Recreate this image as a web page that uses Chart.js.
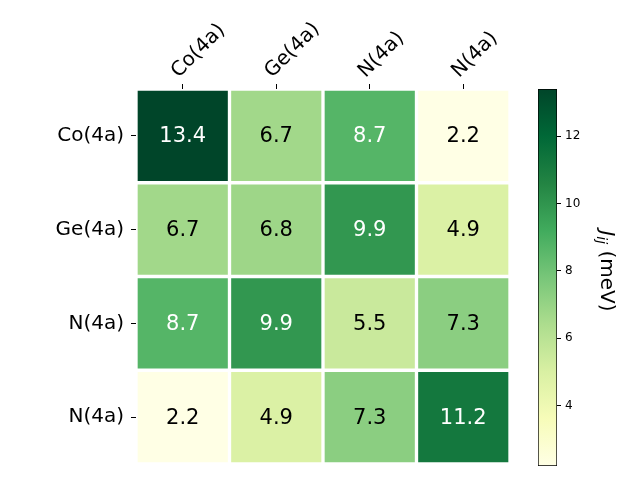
<!DOCTYPE html>
<html lang="en">
<head>
<meta charset="UTF-8">
<script src="https://cdn.jsdelivr.net/npm/chart.js@4.4.0/dist/chart.umd.min.js"></script>
<title>Exchange couplings</title>
<style>
    body { margin: 0; background: #fff; }
    canvas { position: absolute; left: 0; top: 0; }
</style>
</head>
<body>
<canvas id="heat" width="640" height="480"></canvas>
<canvas id="cbar" width="640" height="480"></canvas>
<script>
// sites along both axes
const sites = ['Co(4a)', 'Ge(4a)', 'N(4a)', 'N(4a)'];

// J_ij values in meV, one array per row
const rowCo = [13.4, 6.7, 8.7, 2.2];
const rowGe = [6.7, 6.8, 9.9, 4.9];
const rowN1 = [8.7, 9.9, 5.5, 7.3];
const rowN2 = [2.2, 4.9, 7.3, 11.2];
const rows = [rowCo, rowGe, rowN1, rowN2];

const vmin = 2.2;
const vmax = 13.4;
const cbarTicks = [4, 6, 8, 10, 12];

// matplotlib YlGn
const YlGn = ['#ffffe5', '#f7fcb9', '#d9f0a3', '#addd8e', '#78c679', '#41ab5d', '#238443', '#006837', '#004529'];

function hexRgb(h) {
    return [parseInt(h.slice(1, 3), 16), parseInt(h.slice(3, 5), 16), parseInt(h.slice(5, 7), 16)];
}
function cmap(v) {
    let t = (v - vmin) / (vmax - vmin);
    t = Math.max(0, Math.min(1, t));
    const p = t * (YlGn.length - 1);
    const i = Math.min(Math.floor(p), YlGn.length - 2);
    const f = p - i;
    const a = hexRgb(YlGn[i]), b = hexRgb(YlGn[i + 1]);
    const c = a.map((x, k) => Math.round(x + (b[k] - x) * f));
    return 'rgb(' + c.join(',') + ')';
}

const FONT = 'DejaVu Sans';

const cellLabels = {
    id: 'cellLabels',
    afterDatasetsDraw(chart) {
        const ctx = chart.ctx;
        ctx.save();
        ctx.font = '21px "' + FONT + '"';
        ctx.textAlign = 'center';
        ctx.textBaseline = 'middle';
        chart.data.datasets.forEach((ds, r) => {
            chart.getDatasetMeta(r).data.forEach((el, c) => {
                const v = rows[r][c];
                const t = (v - vmin) / (vmax - vmin);
                ctx.fillStyle = t > 0.5 ? '#fff' : '#000';
                ctx.fillText(v.toFixed(1), el.x, (el.y + el.base) / 2 + 1);
            });
        });
        ctx.restore();
    }
};

const tickGrid = {
    drawOnChartArea: false,
    offset: false,
    color: '#000',
    tickLength: 5,
    tickWidth: 1
};

function noEdgePadding(s) {
    s.paddingTop = 0;
    s.paddingBottom = 0;
    s.paddingLeft = 0;
    s.paddingRight = 0;
}

new Chart(document.getElementById('heat'), {
    type: 'bar',
    data: {
        labels: sites,
        datasets: rows.map((row, r) => ({
            data: row.map(() => [r, r + 1]),
            backgroundColor: row.map(cmap),
            borderColor: '#fff',
            borderWidth: 2,
            borderSkipped: false,
            grouped: false,
            barPercentage: 1,
            categoryPercentage: 1
        }))
    },
    options: {
        responsive: false,
        animation: false,
        layout: { padding: { left: 0, top: 0, right: 130, bottom: 16 } },
        plugins: { legend: { display: false }, tooltip: { enabled: false } },
        scales: {
            x: {
                position: 'top',
                grid: tickGrid,
                border: { display: false },
                ticks: { color: '#000', font: { family: FONT, size: 20 }, minRotation: 45, maxRotation: 45, padding: 1, labelOffset: 9 },
                afterFit(s) { s.height = 89; noEdgePadding(s); }
            },
            y: {
                type: 'linear',
                min: 0,
                max: 4,
                reverse: true,
                grid: tickGrid,
                border: { display: false },
                afterBuildTicks(s) { s.ticks = [0.5, 1.5, 2.5, 3.5].map(v => ({ value: v })); },
                ticks: { color: '#000', font: { family: FONT, size: 20 }, padding: 7, callback: (v, i) => sites[i] },
                afterFit(s) { s.width = 136; noEdgePadding(s); }
            }
        }
    },
    plugins: [cellLabels]
});

const cbarTitle = {
    id: 'cbarTitle',
    afterDraw(chart) {
        const ctx = chart.ctx;
        ctx.save();
        ctx.translate(606, 271);
        ctx.rotate(Math.PI / 2);
        ctx.fillStyle = '#000';
        ctx.textBaseline = 'middle';
        const big = '20px "' + FONT + '"';
        const it = 'italic 20px "' + FONT + '"';
        const sub = 'italic 14px "' + FONT + '"';
        ctx.font = it; const wJ = ctx.measureText('J').width;
        ctx.font = sub; const wS = ctx.measureText('ij').width;
        ctx.font = big; const wR = ctx.measureText(' (meV)').width;
        let x = -(wJ + wS + wR) / 2;
        ctx.font = it; ctx.fillText('J', x, 0); x += wJ;
        ctx.font = sub; ctx.fillText('ij', x, 5); x += wS;
        ctx.font = big; ctx.fillText(' (meV)', x, 0);
        ctx.restore();
    }
};

new Chart(document.getElementById('cbar'), {
    type: 'bar',
    data: {
        labels: [''],
        datasets: [{
            data: [[vmin, vmax]],
            backgroundColor(c) {
                const area = c.chart.chartArea;
                if (!area) return YlGn[4];
                const g = c.chart.ctx.createLinearGradient(0, area.bottom, 0, area.top);
                YlGn.forEach((col, i) => g.addColorStop(i / (YlGn.length - 1), col));
                return g;
            },
            borderColor: '#000',
            borderWidth: 1,
            borderSkipped: false,
            barPercentage: 1,
            categoryPercentage: 1
        }]
    },
    options: {
        responsive: false,
        animation: false,
        layout: { padding: { left: 538, top: 89, right: 0, bottom: 14 } },
        plugins: { legend: { display: false }, tooltip: { enabled: false } },
        scales: {
            x: { display: false },
            y: {
                position: 'right',
                min: vmin,
                max: vmax,
                grid: { drawOnChartArea: false, color: '#000', tickLength: 4 },
                border: { display: false },
                afterBuildTicks(s) { s.ticks = cbarTicks.map(v => ({ value: v })); },
                ticks: { color: '#000', font: { family: FONT, size: 12 }, padding: 4 },
                afterFit(s) { s.width = 83; noEdgePadding(s); }
            }
        }
    },
    plugins: [cbarTitle]
});
</script>
</body>
</html>
